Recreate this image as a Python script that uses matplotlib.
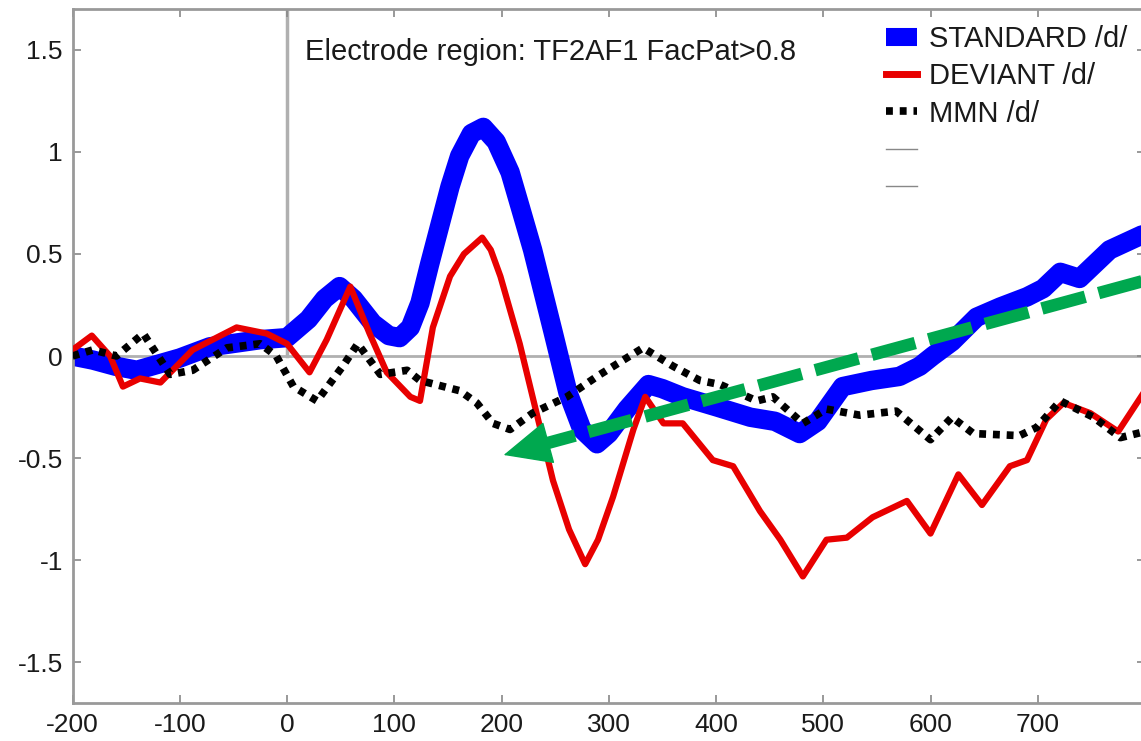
import matplotlib
matplotlib.use("Agg")
import matplotlib.pyplot as plt
from matplotlib.lines import Line2D

plt.rcParams['font.family'] = ['Liberation Sans', 'DejaVu Sans']
plt.rcParams['axes.unicode_minus'] = False

# STANDARD /d/ (blue)
std_t = [-200, -181, -160, -140, -120, -100, -72, -25, 0, 20, 35, 49, 62, 80, 95, 105, 115,
         124, 133, 143, 152, 161, 172, 183, 195, 208, 218, 229, 248, 262, 275, 289, 300,
         317, 337, 350, 369, 401, 432, 455, 478, 495, 518, 545, 571, 590, 602, 620, 643,
         665, 690, 705, 721, 739, 767, 800]
std_v = [0.00, -0.02, -0.05, -0.07, -0.04, -0.01, 0.045, 0.08, 0.09, 0.18, 0.28, 0.34, 0.28, 0.16, 0.10, 0.09, 0.14,
         0.26, 0.45, 0.65, 0.83, 0.98, 1.09, 1.12, 1.05, 0.90, 0.72, 0.52, 0.12, -0.18, -0.36, -0.43, -0.38,
         -0.26, -0.14, -0.16, -0.20, -0.25, -0.30, -0.32, -0.38, -0.32, -0.15, -0.12, -0.10, -0.05, 0.00, 0.07, 0.19,
         0.24, 0.29, 0.33, 0.41, 0.38, 0.52, 0.60]

# DEVIANT /d/ (red)
dev_t = [-200, -182, -165, -153, -137, -118, -88, -47, -19, 0, 21, 37, 59, 77, 93, 115, 124,
         136, 152, 165, 182, 190, 199, 217, 229, 248, 263, 278, 290, 304, 323, 334, 351, 369, 397, 416, 441,
         460, 481, 503, 522, 546, 578, 600, 626, 648, 674, 690, 708, 724, 749, 775, 800]
dev_v = [0.03, 0.10, 0.00, -0.15, -0.11, -0.13, 0.03, 0.14, 0.11, 0.06, -0.08, 0.08, 0.34, 0.11, -0.08, -0.20, -0.22,
         0.14, 0.39, 0.50, 0.58, 0.52, 0.39, 0.06, -0.20, -0.61, -0.85, -1.02, -0.90, -0.69, -0.36, -0.20, -0.33, -0.33, -0.51, -0.54, -0.76,
         -0.90, -1.08, -0.90, -0.89, -0.79, -0.71, -0.87, -0.58, -0.73, -0.54, -0.51, -0.31, -0.23, -0.28, -0.37, -0.17]

# MMN /d/ (black dotted)
mmn_t = [-200, -181, -159, -134, -109, -88, -56, -25, -10, 6, 28, 52, 66, 87, 112, 124, 161,
         177, 192, 208, 229, 261, 292, 332, 360, 385, 404, 438, 453, 481, 503, 534, 568,
         600, 620, 640, 683, 699, 721, 752, 777, 800]
mmn_v = [0.00, 0.03, 0.00, 0.11, -0.09, -0.07, 0.04, 0.06, 0.00, -0.15, -0.22, -0.05, 0.06, -0.09, -0.07, -0.12, -0.17,
         -0.23, -0.33, -0.36, -0.28, -0.20, -0.09, 0.04, -0.05, -0.12, -0.14, -0.22, -0.20, -0.33, -0.26, -0.29, -0.27,
         -0.41, -0.30, -0.38, -0.39, -0.35, -0.22, -0.30, -0.40, -0.37]

xticks = [-200, -100, 0, 100, 200, 300, 400, 500, 600, 700, 800]
xtick_labels = ['-200', '-100', '0', '100', '200', '300', '400', '500', '600', '700', '']
yticks = [-1.5, -1, -0.5, 0, 0.5, 1, 1.5]
ytick_labels = ['-1.5', '-1', '-0.5', '0', '0.5', '1', '1.5']

fig = plt.figure(figsize=(11.41, 7.41), dpi=100)
ax = fig.add_axes([72.5 / 1141, 38 / 741, 1072.5 / 1141, 694 / 741])

# reference lines at 0
ax.axhline(0, color='#b0b0b0', lw=2, zorder=1)
ax.plot([0, 0], [0, 1.7], color='#b0b0b0', lw=2.5, zorder=1)

ax.plot(std_t, std_v, color='#0000ff', lw=14, solid_joinstyle='round', solid_capstyle='round', zorder=2)
ax.plot(dev_t, dev_v, color='#e80000', lw=4.5, solid_joinstyle='round', zorder=3)
ax.plot(mmn_t, mmn_v, color='black', lw=5.5, linestyle=(0, (0.9, 0.9)),
        dash_capstyle='butt', dash_joinstyle='round', zorder=4)

# green arrow
green = '#00a84f'
arr_start = (800, 0.37)
arr_tip = (202, -0.485)
slope = (arr_start[1] - arr_tip[1]) / (arr_start[0] - arr_tip[0])
ax.plot([arr_start[0], 238], [arr_start[1], arr_tip[1] + 36 * slope],
        color=green, lw=9, linestyle=(0, (3.6, 1.1)), dash_capstyle='butt', zorder=5)
ax.annotate('', xy=arr_tip, xytext=(245, arr_tip[1] + 43 * slope),
            arrowprops=dict(arrowstyle='-|>,head_length=3.2,head_width=1.45', color=green,
                            lw=1, shrinkA=0, shrinkB=0), zorder=5)

ax.text(17, 1.49, 'Electrode region: TF2AF1 FacPat>0.8', fontsize=21, color='#1a1a1a', va='center')

ax.set_xlim(-200, 800)
ax.set_ylim(-1.7, 1.7)
ax.set_xticks(xticks)
ax.set_xticklabels(xtick_labels)
ax.set_yticks(yticks)
ax.set_yticklabels(ytick_labels)
ax.tick_params(direction='in', top=True, right=True, length=6, width=1.2, color='#888888',
               labelsize=19, labelcolor='#1a1a1a', pad=7)
for s in ax.spines.values():
    s.set_color('#999999')
    s.set_linewidth(2)

handles = [
    Line2D([], [], color='#0000ff', lw=13, solid_capstyle='butt'),
    Line2D([], [], color='#e80000', lw=5),
    Line2D([], [], color='black', lw=5.5, linestyle=(0, (0.9, 0.9)), dash_capstyle='butt'),
    Line2D([], [], color='#888888', lw=1),
    Line2D([], [], color='#888888', lw=1),
]
labels = ['STANDARD /d/', 'DEVIANT /d/', 'MMN /d/', ' ', ' ']
leg = fig.legend(handles, labels, loc='upper left', bbox_to_anchor=(886 / 1141, 1 - 25 / 741),
                 bbox_transform=fig.transFigure, frameon=False, fontsize=21, handlelength=1.07,
                 handletextpad=0.42, labelspacing=0.32, borderpad=0, borderaxespad=0)
for t in leg.get_texts():
    t.set_color('#1a1a1a')

fig.savefig('out.png', dpi=100)
